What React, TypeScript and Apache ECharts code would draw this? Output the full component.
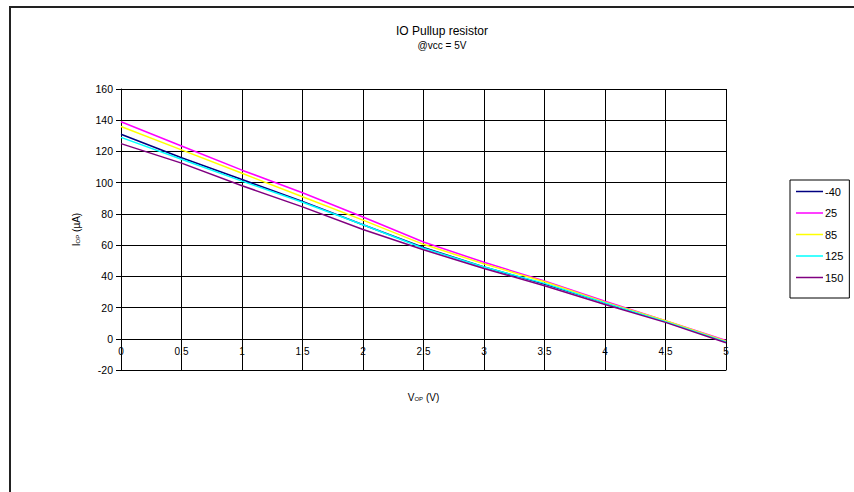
import React, { useEffect, useRef } from "react";
import * as echarts from "echarts";

const voltages = [0, 0.5, 1, 1.5, 2, 2.5, 3, 3.5, 4, 4.5, 5];
const seriesNames = ["-40", "25", "85", "125", "150"];
const seriesColors = ["#000080", "#FF00FF", "#FFFF00", "#00FFFF", "#800080"];
const tempM40 = [131, 116, 102, 88, 73, 58.5, 46, 35, 23, 11, -2];
const temp25 = [139, 123.5, 108, 93.5, 78, 62, 49, 37, 24, 11.5, -1];
const temp85 = [136, 121, 106, 91, 76, 60.5, 48, 36.5, 23.5, 11.5, -1.5];
const temp125 = [129, 115, 101, 87.5, 73, 58, 46, 35.5, 23, 11, -2];
const temp150 = [125, 112.5, 98, 84.5, 70, 57, 45, 34, 22, 10.5, -2.5];
const allSeries = [tempM40, temp25, temp85, temp125, temp150];

const FONT = "Liberation Sans, Arial, sans-serif";

export default function App() {
  const ref = useRef<HTMLDivElement>(null);
  useEffect(() => {
    if (!ref.current) return;
    const chart = echarts.init(ref.current, null, { renderer: "svg" });
    chart.setOption({
      animation: false,
      backgroundColor: "#fff",
      textStyle: { fontFamily: FONT },
      title: {
        text: "IO Pullup resistor",
        subtext: "@vcc = 5V",
        left: 437,
        textAlign: "center",
        top: 20,
        itemGap: 3,
        textStyle: { fontSize: 12, fontWeight: "normal", color: "#000", fontFamily: FONT },
        subtextStyle: { fontSize: 10, color: "#000", fontFamily: FONT },
      },
      graphic: [
        {
          type: "rect",
          shape: { x: 10, y: 7, width: 1000, height: 1000 },
          style: { fill: "none", stroke: "#222", lineWidth: 2 },
          silent: true,
        },
      ],
      legend: {
        orient: "vertical",
        left: 790,
        top: 180,
        padding: [6, 6, 15, 6],
        itemGap: 10.5,
        itemWidth: 27,
        itemHeight: 1.5,
        icon: "rect",
        borderColor: "#000",
        borderWidth: 1,
        textStyle: { fontSize: 11, color: "#000", fontFamily: FONT, padding: [0, 0, 0, -3] },
        data: seriesNames,
      },
      grid: { left: 121, right: 128, top: 89, bottom: 122 },
      xAxis: {
        type: "value",
        min: 0,
        max: 5,
        interval: 0.5,
        name: "{a|V}{b|OP}{a| (V)}",
        nameLocation: "middle",
        nameGap: 22,
        nameTextStyle: {
          rich: {
            a: { fontSize: 10, color: "#000", fontFamily: FONT },
            b: { fontSize: 6, color: "#000", fontFamily: FONT, verticalAlign: "bottom", padding: [4, 0, 0, 0] },
          },
        },
        axisLine: { show: true, onZero: false, lineStyle: { color: "#000", width: 1 } },
        axisTick: { show: false },
        axisLabel: { fontSize: 10, color: "#000", margin: -24, fontFamily: FONT },
        splitLine: { show: true, lineStyle: { color: "#000", width: 1 } },
      },
      yAxis: {
        type: "value",
        min: -20,
        max: 160,
        interval: 20,
        name: "{a|I}{b|OP}{a| (µA)}",
        nameLocation: "middle",
        nameRotate: 90,
        nameGap: 40,
        nameTextStyle: {
          rich: {
            a: { fontSize: 10, color: "#000", fontFamily: FONT },
            b: { fontSize: 6, color: "#000", fontFamily: FONT, verticalAlign: "bottom", padding: [4, 0, 0, 0] },
          },
        },
        axisLine: { show: true, lineStyle: { color: "#000", width: 1 } },
        axisTick: { show: true, length: 5, lineStyle: { color: "#000" } },
        axisLabel: { fontSize: 10.5, color: "#000", margin: 8, fontFamily: FONT },
        splitLine: { show: true, lineStyle: { color: "#000", width: 1 } },
      },
      series: seriesNames.map((name, i) => ({
        name,
        type: "line",
        data: voltages.map((v, j) => [v, allSeries[i][j]]),
        symbol: "none",
        showSymbol: false,
        lineStyle: { color: seriesColors[i], width: 1.5 },
        itemStyle: { color: seriesColors[i] },
        z: 3,
      })),
    });
    return () => chart.dispose();
  }, []);
  return (
    <div
      ref={ref}
      style={{ position: "absolute", left: 0, top: 0, width: 854, height: 492 }}
    />
  );
}
